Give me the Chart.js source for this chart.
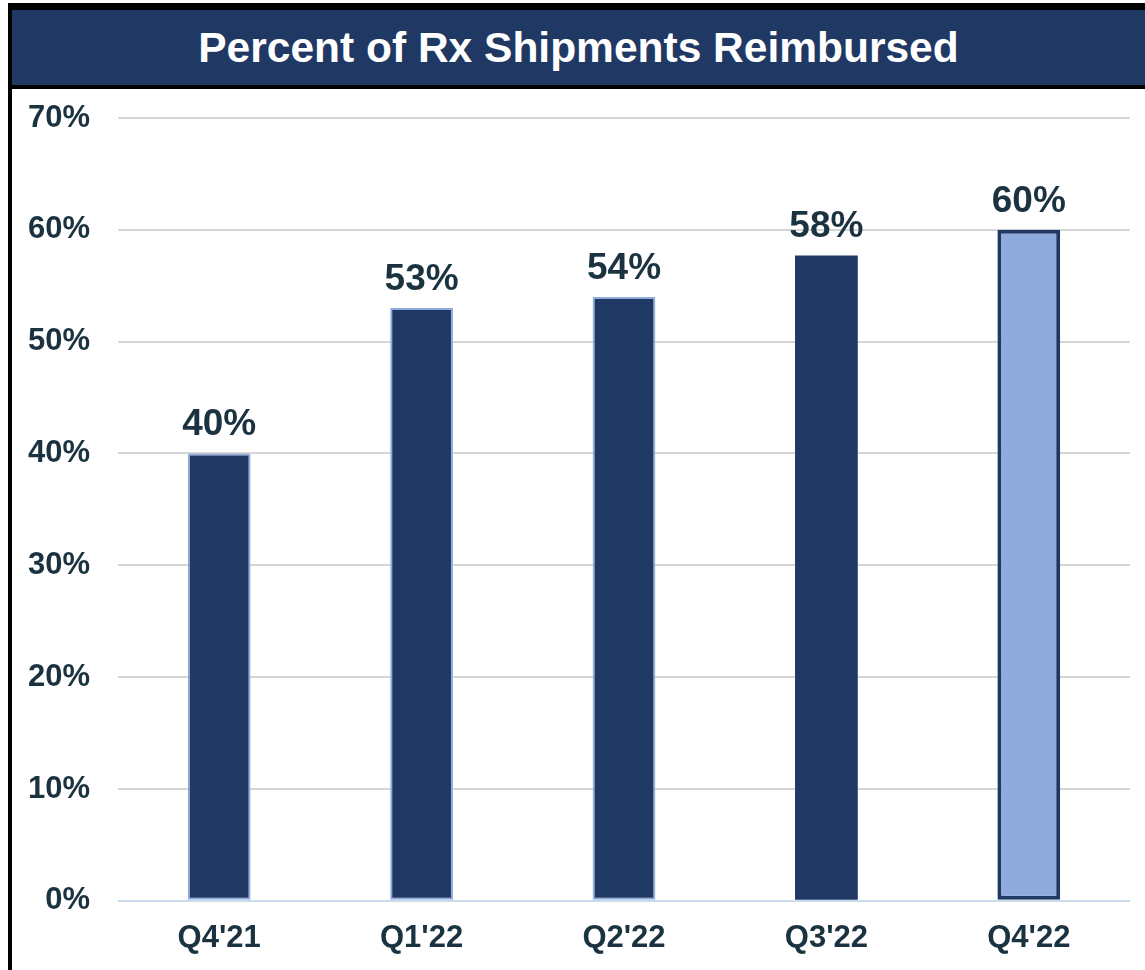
<!DOCTYPE html>
<html>
<head>
<meta charset="utf-8">
<script src="https://cdn.jsdelivr.net/npm/chart.js@4/dist/chart.umd.min.js"></script>
<style>
  body { margin: 0; background: #fff; width: 1145px; height: 970px; overflow: hidden; position: relative; font-family: "Liberation Sans", Arial, sans-serif; }
  #frame { position: absolute; left: 8px; top: 3px; width: 1145px; height: 980px; border-left: 4px solid #000; border-top: 7px solid #000; }
  #banner { position: absolute; left: 12px; top: 10px; width: 1133px; height: 75px; background: #203864; border-bottom: 4px solid #000;
            color: #fff; font-weight: bold; font-size: 42.5px; line-height: 75px; text-align: center; }
  #wrap { position: absolute; left: 12px; top: 89px; width: 1133px; height: 881px; }
</style>
</head>
<body>
<div id="frame"></div>
<div id="banner">Percent of Rx Shipments Reimbursed</div>
<div id="wrap"><canvas id="barChart"></canvas></div>
<script>
const quarters = ["Q4'21", "Q1'22", "Q2'22", "Q3'22", "Q4'22"];
const reimbursed = [40, 53, 54, 57.7, 60];
const yTicks = [0, 10, 20, 30, 40, 50, 60, 70];

const navy = '#203864';
const lightBlue = '#8FAADC';
const textColor = '#1B3340';

// percent labels above each bar
const valueLabels = {
  id: 'valueLabels',
  afterDatasetsDraw(chart) {
    const ctx = chart.ctx;
    const meta = chart.getDatasetMeta(0);
    ctx.save();
    ctx.font = 'bold 37px "Liberation Sans", Arial, sans-serif';
    ctx.fillStyle = textColor;
    ctx.textAlign = 'center';
    ctx.textBaseline = 'bottom';
    meta.data.forEach((bar, i) => {
      ctx.fillText(Math.round(reimbursed[i]) + '%', bar.x, bar.y - 10);
    });
    ctx.restore();
  }
};

const dataBar = {
  labels: quarters,
  datasets: [{
    data: reimbursed,
    backgroundColor: [navy, navy, navy, navy, lightBlue],
    borderColor: [lightBlue, lightBlue, lightBlue, navy, navy],
    borderWidth: [2, 2, 2, 0, 4],
    borderSkipped: false,
    barPercentage: 0.31,
    categoryPercentage: 1
  }]
};

const configBar = {
  type: 'bar',
  data: dataBar,
  plugins: [valueLabels],
  options: {
    responsive: true,
    maintainAspectRatio: false,
    animation: false,
    layout: { padding: { top: 29, right: 15, bottom: 2, left: 15 } },
    plugins: {
      legend: { display: false },
      tooltip: { enabled: false }
    },
    scales: {
      x: {
        grid: { display: false },
        border: { display: false },
        ticks: {
          color: textColor,
          padding: 11,
          font: { family: '"Liberation Sans", Arial, sans-serif', size: 31, weight: 'bold' }
        }
      },
      y: {
        min: 0,
        max: 70,
        afterBuildTicks: axis => { axis.ticks = yTicks.map(v => ({ value: v })); },
        afterFit: axis => {
          axis.width = 91;
          axis.paddingTop = 0;
          axis.paddingBottom = 0;
        },
        grid: {
          drawTicks: false,
          lineWidth: 2,
          color: c => c.index === 0 ? '#CADCEC' : '#D6D6D6'
        },
        border: { display: false },
        ticks: {
          color: textColor,
          padding: 28,
          font: { family: '"Liberation Sans", Arial, sans-serif', size: 31, weight: 'bold' },
          callback: v => v + '%'
        }
      }
    }
  }
};

const barChart = new Chart(document.getElementById('barChart'), configBar);
</script>
</body>
</html>
